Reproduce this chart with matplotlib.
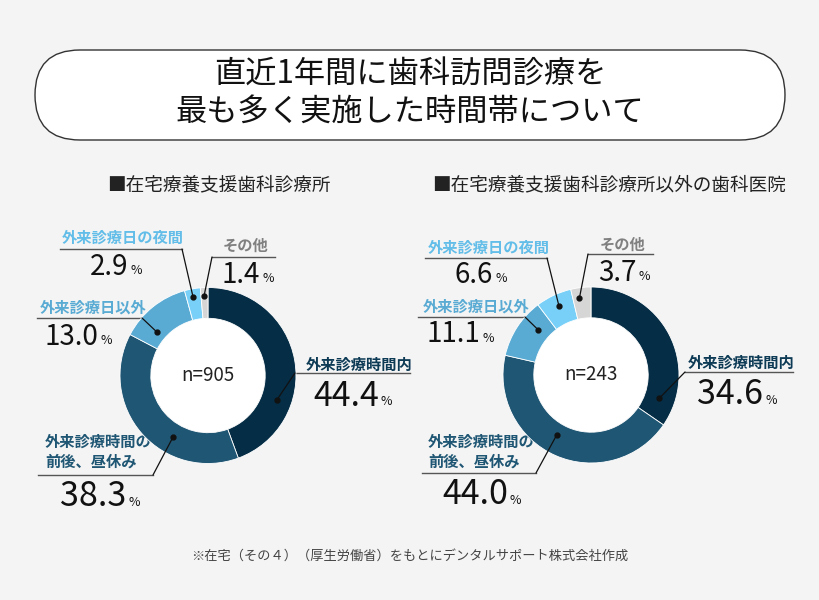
import matplotlib
matplotlib.use("Agg")
import matplotlib.pyplot as plt
from matplotlib.patches import FancyBboxPatch, ConnectionPatch
import numpy as np

plt.rcParams['font.family'] = ['Noto Sans CJK JP', 'DejaVu Sans']

# --- data ---
categories = ['外来診療時間内', '外来診療時間の\n前後、昼休み', '外来診療日以外',
              '外来診療日の夜間', 'その他']
support_clinic = [44.4, 38.3, 13.0, 2.9, 1.4]
other_clinic = [34.6, 44.0, 11.1, 6.6, 3.7]
sample_sizes = [905, 243]
panel_titles = ['■在宅療養支援歯科診療所', '■在宅療養支援歯科診療所以外の歯科医院']
title_lines = ['直近1年間に歯科訪問診療を', '最も多く実施した時間帯について']
source = '※在宅（その４）（厚生労働省）をもとにデンタルサポート株式会社作成'

# --- style ---
BG = '#f4f4f4'
slice_colors = ['#052d45', '#1f5673', '#5aabd4', '#78d0f8', '#d6d6d6']
label_colors = ['#0d3a55', '#1f5673', '#5aabd4', '#62bde8', '#808080']
value_sizes = [24.5, 24.5, 20, 20, 20]
W, H = 820, 600
R = 88  # donut radius in px

# layout per panel, pixel coords (y down)
layouts = [
    dict(center=(208, 375.5), title_xy=(107, 185),
         dot_frac=[0.686, 0.361, 0.27, 0.45, 0.42],
         dot_r=[0.83, 0.80, 0.76, 0.91, 0.90],
         rule=[(295, 410, 373, 'L'), (38, 153, 475, 'R'), (37, 142, 318, 'R'),
               (60, 182, 249, 'R'), (212, 275, 257, 'L')],
         text=[(306, 365), (45, 452), (40, 308), (62, 238), (223, 246)],
         value=[(313, 396), (60, 497), (45, 337), (90, 267), (222, 275)]),
    dict(center=(591, 375), title_xy=(432, 185),
         dot_frac=[0.873, 0.538, 0.69, 0.51, 0.35],
         dot_r=[0.82, 0.78, 0.79, 0.86, 0.88],
         rule=[(685, 793, 372, 'L'), (422, 536, 473, 'R'), (418, 525, 317, 'R'),
               (425, 547, 258, 'R'), (588, 653, 254, 'L')],
         text=[(688, 363), (428, 452), (423, 307), (428, 248), (600, 245)],
         value=[(697, 395), (442, 495), (427, 334), (455, 275), (598, 273)]),
]

fig = plt.figure(figsize=(W / 100, H / 100), dpi=100, facecolor=BG)
ax = fig.add_axes([0, 0, 1, 1])
ax.set_xlim(0, W); ax.set_ylim(H, 0); ax.axis('off')

# title pill
pill = FancyBboxPatch((35, 50), 750, 90, boxstyle="round,pad=0,rounding_size=45",
                      facecolor='white', edgecolor='#333333', linewidth=1)
ax.add_patch(pill)
for line, y in zip(title_lines, [75, 113]):
    ax.text(410, y, line, ha='center', va='center', fontsize=22.5, color='#111111')

for values, n, ptitle, lay in zip([support_clinic, other_clinic], sample_sizes,
                                   panel_titles, layouts):
    cx, cy = lay['center']
    ax.text(*lay['title_xy'], ptitle, ha='left', va='center', fontsize=13.4, color='#222222')

    pad = R + 2
    pax = fig.add_axes([(cx - pad) / W, 1 - (cy + pad) / H, 2 * pad / W, 2 * pad / H])
    wedges, _ = pax.pie(values, colors=slice_colors, startangle=90, counterclock=False,
                        radius=1, wedgeprops=dict(width=0.35, edgecolor='white', linewidth=0.6))
    lim = pad / R
    pax.set_xlim(-lim, lim); pax.set_ylim(-lim, lim); pax.set_aspect('equal')
    pax.axis('off')
    pax.add_patch(plt.Circle((0, 0), 0.65, color='white', zorder=0))
    pax.text(0, 0, f'n={n}', ha='center', va='center', fontsize=13.5, color='#222222')

    for i, (w, cat, v) in enumerate(zip(wedges, categories, values)):
        # dot inside the slice, measured clockwise from slice start
        ang = np.deg2rad(w.theta2 - lay['dot_frac'][i] * (w.theta2 - w.theta1))
        dx, dy = lay['dot_r'][i] * np.cos(ang), lay['dot_r'][i] * np.sin(ang)
        pax.plot(dx, dy, 'o', color='#111111', markersize=3.5, clip_on=False, zorder=5)

        x0, x1, yr, side = lay['rule'][i]
        ax.plot([x0, x1], [yr, yr], color='#555555', lw=1)
        anchor = (x0, yr) if side == 'L' else (x1, yr)
        con = ConnectionPatch(xyA=(dx, dy), coordsA=pax.transData, xyB=anchor,
                              coordsB=ax.transData, color='#111111', lw=0.9)
        fig.add_artist(con)

        ax.text(*lay['text'][i], cat, ha='left', va='center', fontsize=11,
                fontweight='bold', color=label_colors[i], linespacing=1.3)
        vt = ax.text(*lay['value'][i], f'{v:.1f}', ha='left', va='center',
                     fontsize=value_sizes[i], color='#111111')
        ax.annotate('%', xy=(1, 0.15), xycoords=vt, xytext=(1.5, 0),
                    textcoords='offset points', ha='left', va='bottom',
                    fontsize=9, color='#111111')

ax.text(410, 556, source, ha='center', va='center', fontsize=9.5, color='#444444')

fig.savefig('out.png', dpi=100, facecolor=BG)
